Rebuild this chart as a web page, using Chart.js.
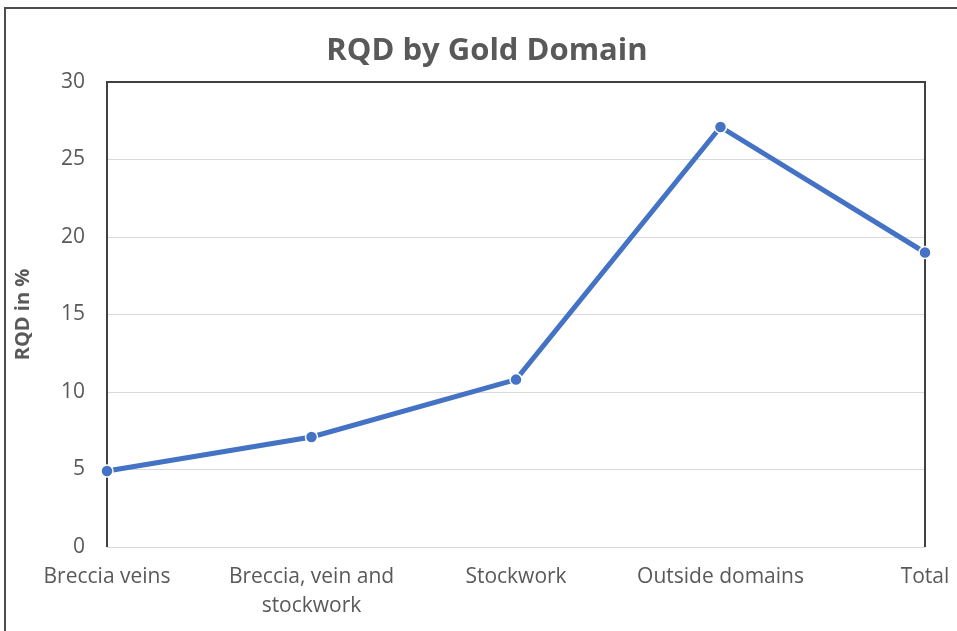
<!DOCTYPE html>
<html>
<head>
<meta charset="utf-8">
<script src="https://cdn.jsdelivr.net/npm/chart.js@4/dist/chart.umd.min.js"></script>
<style>
  html, body { margin: 0; padding: 0; background: #ffffff; }
  #wrap { width: 957px; height: 631px; position: relative; }
</style>
</head>
<body>
<div id="wrap"><canvas id="chart" width="957" height="631"></canvas></div>
<script>
// Gold domains along the x axis
const domains = [
  'Breccia veins',
  ['Breccia, vein and', 'stockwork'],
  'Stockwork',
  'Outside domains',
  'Total'
];
// RQD values, percent
const rqdValues = [4.9, 7.1, 10.8, 27.1, 19.0];
// Value axis ticks
const yTicks = [0, 5, 10, 15, 20, 25, 30];

const chartTitle = 'RQD by Gold Domain';
const textGrey = '#595959';
const lineBlue = '#4472C4';

// Outer frame of the figure (top and left edges) and the chart title
const framePlugin = {
  id: 'frame',
  beforeDraw(chart) {
    const ctx = chart.ctx;
    ctx.save();
    ctx.fillStyle = '#ffffff';
    ctx.fillRect(0, 0, chart.width, chart.height);
    ctx.strokeStyle = '#4d4d4d';
    ctx.lineWidth = 2;
    ctx.beginPath();
    ctx.moveTo(5, chart.height);
    ctx.lineTo(5, 8);
    ctx.lineTo(chart.width, 8);
    ctx.stroke();

    ctx.fillStyle = textGrey;
    ctx.font = 'bold 31px "Open Sans"';
    ctx.textAlign = 'center';
    ctx.textBaseline = 'middle';
    ctx.fillText(chartTitle, 487, 51);
    ctx.restore();
  }
};

// Dark border on the left, top and right sides of the plot area
const plotBorderPlugin = {
  id: 'plotBorder',
  beforeDatasetsDraw(chart) {
    const { ctx, chartArea: a } = chart;
    ctx.save();
    ctx.strokeStyle = '#404040';
    ctx.lineWidth = 2;
    ctx.beginPath();
    ctx.moveTo(a.left, a.bottom);
    ctx.lineTo(a.left, a.top);
    ctx.lineTo(a.right, a.top);
    ctx.lineTo(a.right, a.bottom);
    ctx.stroke();
    ctx.restore();
  }
};

new Chart(document.getElementById('chart'), {
  type: 'line',
  data: {
    labels: domains,
    datasets: [{
      label: 'RQD in %',
      data: rqdValues,
      borderColor: lineBlue,
      backgroundColor: lineBlue,
      borderWidth: 5,
      pointRadius: 6,
      pointBorderColor: '#ffffff',
      pointBorderWidth: 1.5,
      pointBackgroundColor: lineBlue,
      tension: 0,
      fill: false
    }]
  },
  options: {
    responsive: false,
    animation: false,
    devicePixelRatio: 1,
    layout: { padding: { left: 6, right: 32, top: 82, bottom: 0 } },
    plugins: {
      legend: { display: false },
      tooltip: { enabled: false },
      title: { display: false }
    },
    scales: {
      x: {
        offset: false,
        grid: { display: false, drawTicks: false },
        border: { display: false },
        ticks: {
          color: textGrey,
          font: { family: 'Open Sans', size: 21, lineHeight: 1.35 },
          padding: 16,
          maxRotation: 0,
          autoSkip: false
        },
        afterFit(scale) {
          scale.height = 84;
          scale.paddingLeft = 0;
          scale.paddingRight = 0;
        }
      },
      y: {
        min: 0,
        max: 30,
        afterBuildTicks(scale) { scale.ticks = yTicks.map(v => ({ value: v })); },
        grid: { color: '#d9d9d9', lineWidth: 1, drawTicks: false },
        border: { display: false },
        ticks: {
          color: textGrey,
          font: { family: 'Open Sans', size: 21 },
          padding: 22
        },
        title: {
          display: true,
          text: 'RQD in %',
          color: textGrey,
          font: { family: 'Open Sans', size: 20, weight: 'bold' },
          padding: { top: 5, bottom: 0 }
        },
        afterFit(scale) {
          scale.width = 101;
          scale.paddingTop = 0;
          scale.paddingBottom = 0;
        }
      }
    }
  },
  plugins: [framePlugin, plotBorderPlugin]
});
</script>
</body>
</html>
